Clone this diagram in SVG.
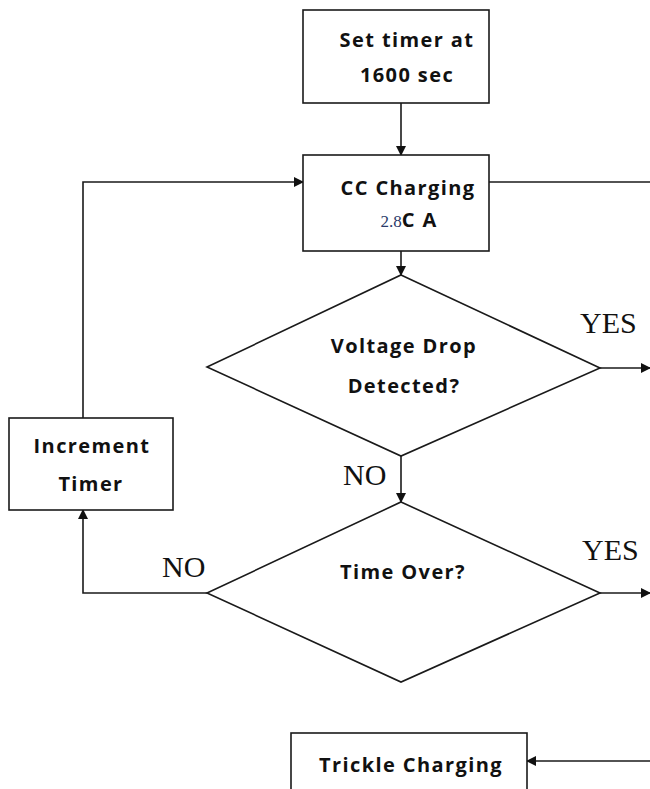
<svg xmlns="http://www.w3.org/2000/svg" width="650" height="789" viewBox="0 0 650 789">
<style>
.box{fill:#fff;stroke:#1a1a1a;stroke-width:1.6}
.lbl{font-family:"Open Sans","Noto Sans",sans-serif;font-weight:bold;font-size:20px;letter-spacing:1.4px;fill:#111;text-anchor:middle}
.yn{font-family:"Liberation Serif",serif;font-size:30px;fill:#111}
.ln{fill:none;stroke:#1a1a1a;stroke-width:1.6}
</style>
<defs>
<marker id="ah" markerWidth="10" markerHeight="10" refX="9" refY="5" orient="auto" markerUnits="userSpaceOnUse">
<path d="M0,0 L10,5 L0,10 z" fill="#111"/>
</marker>
</defs>
<rect width="650" height="789" fill="#fff"/>
<g id="connectors">
<line class="ln" x1="401" y1="103" x2="401" y2="155" marker-end="url(#ah)"/>
<line class="ln" x1="489" y1="182" x2="650" y2="182"/>
<line class="ln" x1="401" y1="251" x2="401" y2="275" marker-end="url(#ah)"/>
<line class="ln" x1="600" y1="368" x2="650" y2="368" marker-end="url(#ah)"/>
<line class="ln" x1="401" y1="456" x2="401" y2="502" marker-end="url(#ah)"/>
<line class="ln" x1="600" y1="593" x2="650" y2="593" marker-end="url(#ah)"/>
<polyline class="ln" points="207,593 83,593 83,510" marker-end="url(#ah)"/>
<polyline class="ln" points="83,418 83,182 303,182" marker-end="url(#ah)"/>
<line class="ln" x1="650" y1="761" x2="527" y2="761" marker-end="url(#ah)"/>
<text class="yn" x="580" y="333">YES</text>
<text class="yn" x="343" y="485">NO</text>
<text class="yn" x="582" y="560">YES</text>
<text class="yn" x="162" y="577">NO</text>
</g>
<g id="set-timer">
<rect class="box" x="303" y="10" width="186" height="93"/>
<text class="lbl" x="407" y="47">Set timer at</text>
<text class="lbl" x="407" y="82">1600 sec</text>
</g>
<g id="cc-charging">
<rect class="box" x="303" y="155" width="186" height="96"/>
<text class="lbl" x="408" y="195">CC Charging</text>
<text x="409" y="227" text-anchor="middle"><tspan font-family="Liberation Serif,serif" font-size="17" fill="#2a3a6a">2.8</tspan><tspan font-family="Open Sans,Noto Sans,sans-serif" font-weight="bold" font-size="20" letter-spacing="1.4" fill="#111">C A</tspan></text>
</g>
<g id="voltage-drop">
<polygon class="box" points="401,275 600,368 401,456 207,367"/>
<text class="lbl" x="404" y="353">Voltage Drop</text>
<text class="lbl" x="404" y="393">Detected?</text>
</g>
<g id="time-over">
<polygon class="box" points="401,502 600,593 401,682 207,593"/>
<text class="lbl" x="403" y="579">Time Over?</text>
</g>
<g id="increment-timer">
<rect class="box" x="9" y="418" width="164" height="92"/>
<text class="lbl" x="92" y="453">Increment</text>
<text class="lbl" x="91" y="491">Timer</text>
</g>
<g id="trickle-charging">
<rect class="box" x="291" y="733" width="236" height="70"/>
<text class="lbl" x="411" y="772">Trickle Charging</text>
</g>
</svg>
